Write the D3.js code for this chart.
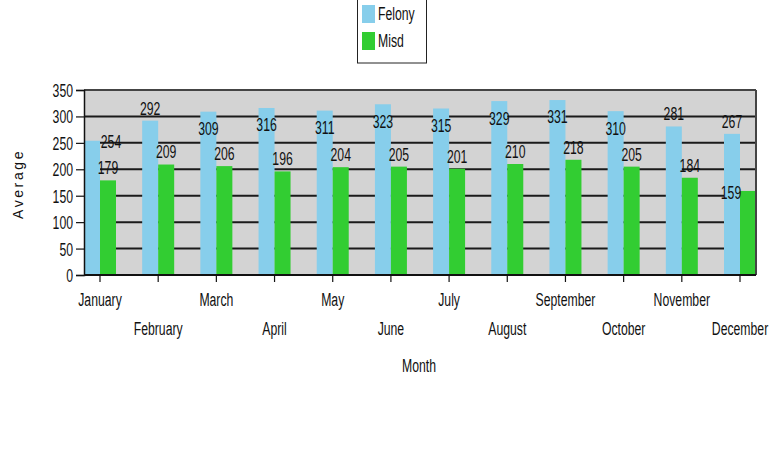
<!DOCTYPE html>
<html>
<head>
<meta charset="utf-8">
<script src="https://cdn.jsdelivr.net/npm/d3@7/dist/d3.min.js"></script>
<style>
  html, body { margin: 0; padding: 0; background: #fff; }
  svg { display: block; }
</style>
</head>
<body>
<svg id="chart" width="771" height="452"></svg>
<script>
// Monthly averages by offence type
const months = ["January", "February", "March", "April", "May", "June",
                "July", "August", "September", "October", "November", "December"];
const seriesNames = ["Felony", "Misd"];
const felony = [254, 292, 309, 316, 311, 323, 315, 329, 331, 310, 281, 267];
const misd   = [179, 209, 206, 196, 204, 205, 201, 210, 218, 205, 184, 159];
const yTicks = [0, 50, 100, 150, 200, 250, 300, 350];

// Where each value label sits relative to its bar
const felonyLabelPlace = ["right", "above", "inside", "inside", "inside", "inside",
                          "inside", "inside", "inside", "inside", "above", "above"];
const misdLabelPlace   = ["above", "above", "above", "above", "above", "above",
                          "above", "above", "above", "above", "above", "left"];

const colors = { Felony: "#87CEEB", Misd: "#32CD32" };
const FONT = "'Liberation Sans', Arial, sans-serif";
const FSIZE = 18, SX = 0.68;

const svg = d3.select("#chart");
const plot = { left: 84, right: 756, top: 90, bottom: 275 };

const x = d3.scaleBand().domain(months)
  .range([plot.left, plot.right]).paddingInner(0.45).paddingOuter(0);
const xs = d3.scaleBand().domain(seriesNames).range([0, x.bandwidth()]);
const y = d3.scaleLinear().domain([0, 350]).range([plot.bottom, plot.top]);

// Condensed text helper (horizontally squeezed glyphs)
function narrowText(g, txt, tx, ty, anchor, size) {
  return g.append("text")
    .attr("transform", `translate(${tx},${ty}) scale(${SX},1)`)
    .attr("text-anchor", anchor || "middle")
    .attr("dominant-baseline", "central")
    .style("font-family", FONT)
    .style("font-size", (size || FSIZE) + "px")
    .attr("fill", "#111")
    .text(txt);
}

// Plot background
svg.append("rect")
  .attr("x", plot.left).attr("y", plot.top)
  .attr("width", plot.right - plot.left).attr("height", plot.bottom - plot.top)
  .attr("fill", "#d3d3d3");

// Horizontal grid lines
svg.append("g").selectAll("line")
  .data(yTicks.filter(t => t > 0 && t < 350))
  .join("line")
  .attr("x1", plot.left).attr("x2", plot.right)
  .attr("y1", d => y(d)).attr("y2", d => y(d))
  .attr("stroke", "#1a1a1a").attr("stroke-width", 2);

// Bars
const data = months.map((m, i) => ({ month: m, Felony: felony[i], Misd: misd[i], i }));
const groups = svg.append("g").selectAll("g")
  .data(data).join("g")
  .attr("transform", d => `translate(${x(d.month)},0)`);

groups.selectAll("rect")
  .data(d => seriesNames.map(s => ({ s, v: d[s], i: d.i })))
  .join("rect")
  .attr("x", d => xs(d.s))
  .attr("y", d => y(d.v))
  .attr("width", xs.bandwidth())
  .attr("height", d => y(0) - y(d.v))
  .attr("fill", d => colors[d.s]);

// Plot frame: top and right in dark gray
svg.append("line").attr("x1", plot.left).attr("x2", plot.right)
  .attr("y1", plot.top).attr("y2", plot.top)
  .attr("stroke", "#444").attr("stroke-width", 2);
svg.append("line").attr("x1", plot.right).attr("x2", plot.right)
  .attr("y1", plot.top).attr("y2", plot.bottom)
  .attr("stroke", "#444").attr("stroke-width", 2);

// Y axis
const yAxis = svg.append("g")
  .attr("transform", `translate(${plot.left},0)`)
  .call(d3.axisLeft(y).tickValues(yTicks).tickSize(8).tickPadding(3).tickFormat(d3.format("d")));
yAxis.select(".domain").attr("stroke", "#111").attr("stroke-width", 1.5);
yAxis.selectAll(".tick line").attr("stroke", "#111").attr("stroke-width", 1.2);
yAxis.selectAll(".tick text").remove();
yAxis.selectAll(".tick").each(function (d) {
  narrowText(d3.select(this), d, -11, 0, "end");
});

// X axis with ticks between each pair of bars
const xAxis = svg.append("g")
  .attr("transform", `translate(0,${plot.bottom})`);
xAxis.append("line")
  .attr("x1", plot.left).attr("x2", plot.right)
  .attr("stroke", "#111").attr("stroke-width", 2);
xAxis.selectAll(".xt").data(months).join("line")
  .attr("class", "xt")
  .attr("x1", d => x(d) + x.bandwidth() / 2).attr("x2", d => x(d) + x.bandwidth() / 2)
  .attr("y1", 0).attr("y2", 7)
  .attr("stroke", "#111").attr("stroke-width", 1.2);
months.forEach((m, i) => {
  narrowText(xAxis, m, x(m) + x.bandwidth() / 2, i % 2 === 0 ? 25 : 54, "middle");
});

// Value labels
function placeLabel(s, v, i, place) {
  const bx = x(months[i]) + xs(s);
  const bw = xs.bandwidth();
  const top = y(v);
  let lx = bx + bw / 2, ly = top - 12.5;
  if (place === "inside") ly = top + 17;
  if (place === "right") { lx = bx + bw + 11; ly = top + 1; }
  if (place === "left") { lx = bx - 9; ly = top + 2; }
  narrowText(svg, v, lx, ly, "middle");
}
felony.forEach((v, i) => placeLabel("Felony", v, i, felonyLabelPlace[i]));
misd.forEach((v, i) => placeLabel("Misd", v, i, misdLabelPlace[i]));

// Axis titles
svg.append("text")
  .attr("transform", `translate(18,184) rotate(-90)`)
  .attr("text-anchor", "middle")
  .attr("dominant-baseline", "central")
  .style("font-family", "'Liberation Sans', Arial, sans-serif")
  .style("font-size", "14px")
  .style("letter-spacing", "2.6px")
  .attr("fill", "#111")
  .text("Average");
narrowText(svg, "Month", 419, 366, "middle");

// Legend
const legend = svg.append("g");
legend.append("rect")
  .attr("x", 357.5).attr("y", -1).attr("width", 69).attr("height", 64)
  .attr("fill", "#fff").attr("stroke", "#222").attr("stroke-width", 1);
seriesNames.forEach((s, i) => {
  legend.append("rect")
    .attr("x", 362).attr("y", 5 + i * 27).attr("width", 13).attr("height", 18)
    .attr("fill", colors[s]);
  narrowText(legend, s, 378, 14 + i * 27, "start");
});
</script>
</body>
</html>
